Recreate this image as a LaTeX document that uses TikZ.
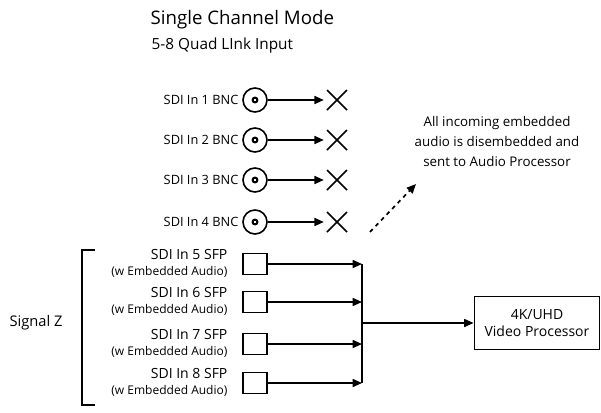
\documentclass[tikz,border=0pt]{standalone}
\usepackage{fontspec}
\setmainfont{Open Sans}
\usetikzlibrary{arrows.meta}
\tikzset{
  lbl/.style={anchor=east,font=\fontsize{9.6}{10}\selectfont,inner sep=1pt},
  sfplbl/.style={anchor=east,font=\fontsize{10.5}{11}\selectfont,inner sep=1pt},
  sub/.style={anchor=east,font=\fontsize{9}{10}\selectfont,inner sep=1pt},
  sfp/.style={draw,line width=1.2pt,minimum width=18pt,minimum height=16pt,inner sep=0pt},
  feed/.style={line width=1.2pt,-{Triangle[length=7pt,width=6pt]}}
}
\begin{document}
\begin{tikzpicture}[x=0.75pt,y=-0.75pt]
  \useasboundingbox (0,0) rectangle (601,412);
  \node[anchor=west,font=\fontsize{14}{15}\selectfont] (title) at (146,20) {Single Channel Mode};
  \node[anchor=west,font=\fontsize{11.5}{12}\selectfont] (subtitle) at (147,46) {5-8 Quad LInk Input};
  % BNC inputs
  \foreach \i/\y in {1/100,2/140,3/180,4/222}{
    \node[lbl] (bl\i) at (240,\y) {SDI In \i{} BNC};
    \node[draw,circle,line width=1.2pt,minimum size=18pt,inner sep=0pt] (bnc\i) at (255,\y) {};
    \draw[line width=1.5pt] (bnc\i.center) circle (1.8pt);
    \coordinate (x\i) at (337,\y);
    \draw[feed] (bnc\i.east) -- ++(56,0);
    \draw[line width=1.1pt] ([shift={(-10,-10)}]x\i) -- ([shift={(10,10)}]x\i)
                             ([shift={(-10,10)}]x\i) -- ([shift={(10,-10)}]x\i);
  }
  \coordinate (da) at (370,232);
  \coordinate (db) at (416,184);
  \draw[line width=1.3pt,dashed,-{Triangle[length=7pt,width=6pt]}] (da) -- (db);
  \node[align=center,font=\fontsize{10}{15}\selectfont] (note) at (497,141)
    {All incoming embedded\\audio is disembedded and\\sent to Audio Processor};
  % SFP inputs
  \coordinate (jt) at (362,264);
  \coordinate (jb) at (362,383);
  \foreach \i/\y in {5/264,6/302,7/344,8/383}{
    \node[sfplbl] (sl\i) at (229,\y-10) {SDI In \i{} SFP};
    \node[sub] (sw\i) at (229,\y+8) {(w Embedded Audio)};
    \node[sfp] (sfp\i) at (255,\y) {};
    \draw[feed] (sfp\i.east) -- (362,\y);
  }
  \draw[line width=1.2pt] (jt) -- (jb);
  \node[draw,line width=1.2pt,minimum width=94pt,minimum height=40pt,align=center,
        font=\fontsize{10.5}{13}\selectfont] (vp) at (537,323) {4K/UHD\\Video Processor};
  \coordinate (jm) at (362,323);
  \draw[feed] (jm) -- (vp.west);
  % bracket
  \draw[line width=1.2pt] (95,250) -- (82,250) -- (82,405) -- (95,405);
  \node[font=\fontsize{11}{12}\selectfont] (sigz) at (36,323) {Signal Z};
\end{tikzpicture}
\end{document}
